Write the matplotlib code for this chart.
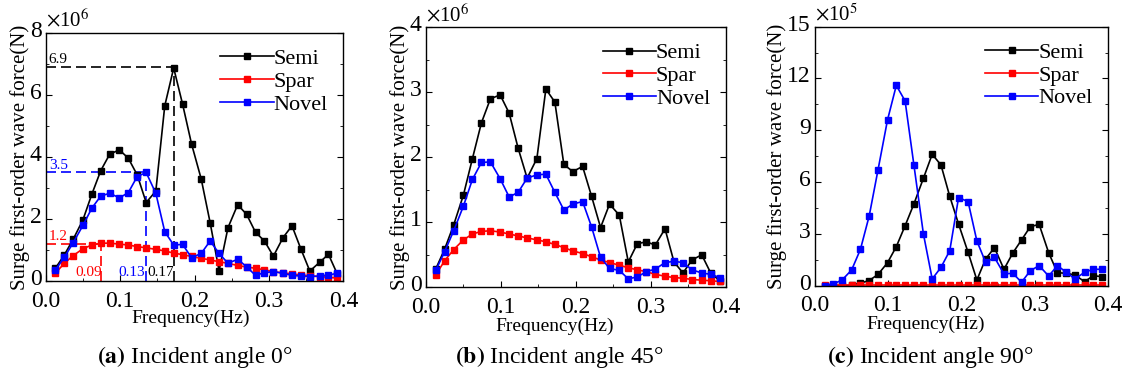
import numpy as np
import matplotlib
matplotlib.use("Agg")
import matplotlib.pyplot as plt
import matplotlib.transforms as mtransforms
from matplotlib.ticker import MultipleLocator

plt.rcParams['font.family'] = ['Liberation Serif', 'DejaVu Serif']
plt.rcParams['mathtext.fontset'] = 'stix'

freq = [0.013, 0.025, 0.037, 0.050, 0.062, 0.074, 0.086, 0.099, 0.111, 0.123,
        0.135, 0.148, 0.160, 0.172, 0.184, 0.196, 0.209, 0.221, 0.233, 0.245,
        0.258, 0.270, 0.282, 0.294, 0.306, 0.319, 0.331, 0.343, 0.355, 0.368,
        0.380, 0.392]

# (a) incident angle 0 deg, x1e6 N
semi_0 = [0.41, 0.84, 1.35, 1.97, 2.80, 3.56, 4.09, 4.23, 3.96, 3.42,
          2.53, 2.90, 5.65, 6.87, 5.70, 4.42, 3.29, 1.88, 0.33, 1.72,
          2.46, 2.15, 1.57, 1.29, 0.80, 1.40, 1.78, 1.03, 0.32, 0.60,
          0.86, 0.22]
spar_0 = [0.25, 0.57, 0.82, 1.04, 1.16, 1.22, 1.22, 1.19, 1.16, 1.11,
          1.07, 1.02, 0.97, 0.90, 0.85, 0.79, 0.73, 0.68, 0.62, 0.57,
          0.50, 0.45, 0.41, 0.36, 0.30, 0.26, 0.23, 0.19, 0.17, 0.14,
          0.12, 0.09]
novel_0 = [0.36, 0.76, 1.24, 1.79, 2.35, 2.74, 2.83, 2.68, 2.85, 3.37,
           3.50, 2.83, 1.59, 1.16, 1.18, 0.75, 0.89, 1.29, 0.89, 0.57,
           0.70, 0.46, 0.18, 0.27, 0.30, 0.25, 0.18, 0.16, 0.14, 0.16,
           0.19, 0.25]

# (b) incident angle 45 deg, x1e6 N
semi_45 = [0.28, 0.59, 0.96, 1.42, 1.98, 2.53, 2.90, 2.96, 2.68, 2.14,
           1.68, 1.98, 3.05, 2.85, 1.89, 1.78, 1.86, 1.40, 0.92, 1.28,
           1.11, 0.39, 0.67, 0.70, 0.65, 0.90, 0.39, 0.22, 0.42, 0.50,
           0.22, 0.10]
spar_45 = [0.19, 0.41, 0.58, 0.73, 0.82, 0.86, 0.87, 0.85, 0.82, 0.79,
           0.76, 0.73, 0.70, 0.66, 0.61, 0.56, 0.52, 0.47, 0.42, 0.38,
           0.34, 0.30, 0.27, 0.24, 0.20, 0.17, 0.15, 0.14, 0.12, 0.11,
           0.10, 0.09]
novel_45 = [0.26, 0.55, 0.87, 1.25, 1.66, 1.92, 1.93, 1.67, 1.39, 1.46,
            1.68, 1.73, 1.74, 1.46, 1.19, 1.28, 1.32, 0.93, 0.46, 0.29,
            0.26, 0.13, 0.16, 0.24, 0.28, 0.38, 0.40, 0.38, 0.27, 0.22,
            0.20, 0.15]

# (c) incident angle 90 deg, x1e5 N
semi_90 = [0.0, 0.0, 0.0, 0.03, 0.15, 0.30, 0.65, 1.33, 2.26, 3.47,
           4.73, 6.22, 7.61, 6.99, 5.17, 3.57, 1.93, 0.33, 1.55, 2.20,
           0.95, 1.89, 2.65, 3.42, 3.55, 1.91, 0.75, 0.72, 0.62, 0.23,
           0.58, 0.52]
spar_90 = [0.02] * 32
novel_90 = [0.0, 0.10, 0.33, 0.91, 2.10, 4.04, 6.70, 9.60, 11.60, 10.70,
            7.00, 3.00, 0.39, 1.06, 2.03, 5.10, 4.87, 2.59, 1.35, 1.64,
            0.68, 0.72, 0.20, 0.87, 1.16, 0.56, 1.16, 0.78, 0.39, 0.78,
            0.95, 0.95]

panels = [
    dict(rect=[0.0406, 0.2527, 0.2643, 0.6596], data=(semi_0, spar_0, novel_0),
         ymax=8, major=2, exp='6', caption='a', angle='0°', cx=0.173, lx_y=0.153),
    dict(rect=[0.3783, 0.2359, 0.2662, 0.6915], data=(semi_45, spar_45, novel_45),
         ymax=4, major=1, exp='6', caption='b', angle='45°', cx=0.497, lx_y=0.132),
    dict(rect=[0.7238, 0.2402, 0.2602, 0.6888], data=(semi_90, spar_90, novel_90),
         ymax=15, major=3, exp='5', caption='c', angle='90°', cx=0.826, lx_y=0.137),
]

names = ['Semi', 'Spar', 'Novel']
colors = ['black', '#ff0000', '#0000ff']

fig = plt.figure(figsize=(11.26, 3.76), dpi=100)
lift = mtransforms.ScaledTranslation(0, 4 / 100, fig.dpi_scale_trans)

for p in panels:
    ax = fig.add_axes(p['rect'])
    for series, name, c in zip(p['data'], names, colors):
        ax.plot(freq, series, '-s', color=c, lw=1.2, ms=4.3, label=name)
    ax.set_xlim(0, 0.4)
    ax.set_ylim(0, p['ymax'])
    ax.xaxis.set_major_locator(MultipleLocator(0.1))
    ax.xaxis.set_minor_locator(MultipleLocator(0.05))
    ax.yaxis.set_major_locator(MultipleLocator(p['major']))
    ax.yaxis.set_minor_locator(MultipleLocator(p['major'] / 2))
    ax.xaxis.set_major_formatter(plt.FuncFormatter(lambda v, _: f'{v:.1f}'))
    ax.tick_params(which='both', direction='in', right=True, top=False,
                   labelsize=17)
    ax.tick_params(axis='x', pad=7)
    ax.tick_params(axis='y', pad=3)
    ax.tick_params(which='major', length=4)
    ax.tick_params(which='minor', length=2.5)
    for lab in ax.get_yticklabels():
        lab.set_transform(lab.get_transform() + lift)
    for s in ax.spines.values():
        s.set_linewidth(1.0)
    ax.set_ylabel('Surge first-order wave force(N)', fontsize=15, labelpad=0)
    ax.text(0.0, 1.005, r'$\times\mathregular{10}^{%s}$' % p['exp'],
            transform=ax.transAxes, fontsize=15, ha='left', va='bottom')
    ax.legend(loc='upper right', frameon=False, fontsize=16,
              handlelength=2.4, handletextpad=0.0, labelspacing=0.1,
              borderaxespad=0.3, bbox_to_anchor=(1.0, 1.0))
    fig.text(p['cx'] - 0.004, p['lx_y'], 'Frequency(Hz)', ha='center', va='center',
             fontsize=14)
    fig.text(p['cx'], 0.05, r'$\mathbf{(%s)}$' % p['caption'] + ' Incident angle ' + p['angle'],
             ha='center', va='center', fontsize=17)
    p['ax'] = ax

# peak markers on panel (a)
ax = panels[0]['ax']
peaks = [(freq[13], 6.9, 'black'), (freq[10], 3.5, '#0000ff'), (freq[5], 1.2, '#ff0000')]
for fx, fy, c in peaks:
    ax.plot([0, fx], [fy, fy], '--', color=c, lw=1.2, dashes=(6, 3), zorder=1)
    ax.plot([fx, fx], [0, fy], '--', color=c, lw=1.2, dashes=(6, 3), zorder=1)
ax.text(0.004, 6.93, '6.9', color='black', fontsize=11, va='bottom')
ax.text(0.004, 3.53, '3.5', color='#0000ff', fontsize=11, va='bottom')
ax.text(0.004, 1.23, '1.2', color='#ff0000', fontsize=11, va='bottom')
ax.text(0.040, 0.05, '0.09', color='#ff0000', fontsize=11, va='bottom')
ax.text(0.097, 0.05, '0.13', color='#0000ff', fontsize=11, va='bottom')
ax.text(0.137, 0.05, '0.17', color='black', fontsize=11, va='bottom')

fig.savefig('out.png', dpi=100)
